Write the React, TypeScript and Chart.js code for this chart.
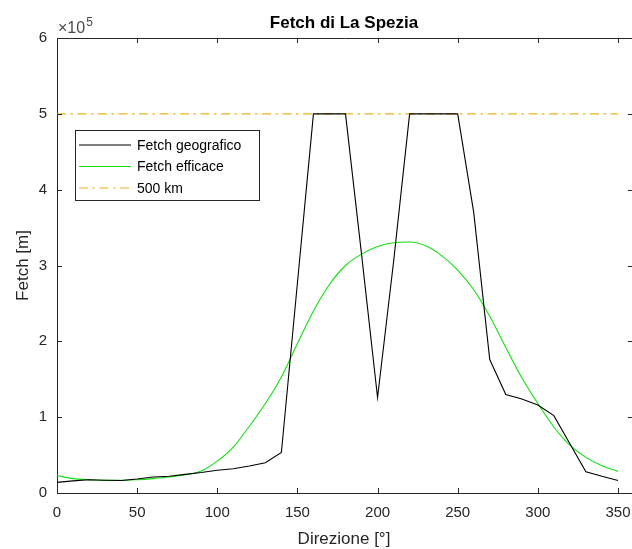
import React, { useEffect, useRef } from "react";
import { Chart, registerables } from "chart.js";

Chart.register(...registerables);

const directions = [0, 10, 20, 30, 40, 50, 60, 70, 80, 90, 100, 110, 120, 130, 140, 150, 160, 170, 180, 190, 200, 210, 220, 230, 240, 250, 260, 270, 280, 290, 300, 310, 320, 330, 340, 350];
const fetchGeografico = [14000, 16000, 17500, 16800, 16500, 18500, 21000, 22000, 24500, 27000, 30000, 32000, 35500, 40000, 53500, 277000, 500000, 500000, 500000, 315000, 126000, 305000, 500000, 500000, 500000, 500000, 370000, 176000, 130000, 124000, 116000, 102000, 65000, 28000, 22000, 16600];
const fetchEfficace = [23000, 19000, 17500, 16700, 16700, 17500, 19000, 21000, 24000, 29000, 42000, 60500, 88000, 118000, 153000, 197000, 240000, 275000, 300000, 315000, 325000, 330000, 331000, 326000, 313000, 294000, 268000, 233000, 192000, 152000, 118000, 87000, 63000, 47000, 36000, 28500];
const limitX = [0, 350];
const limitY = [500000, 500000];
const xTicks = [0, 50, 100, 150, 200, 250, 300, 350];
const yTicks = [0, 100000, 200000, 300000, 400000, 500000, 600000];
const titleText = "Fetch di La Spezia";
const xTitle = "Direzione [°]";
const yTitle = "Fetch [m]";
const seriesLabels = ["Fetch geografico", "Fetch efficace", "500 km"];

const FONT = "'Liberation Sans', Arial, Helvetica, sans-serif";
const AX = "#262626";

const decorPlugin = {
  id: "decor",
  afterDraw(chart: any) {
    const ctx = chart.ctx as CanvasRenderingContext2D;
    const { left, right, top, bottom } = chart.chartArea;
    const xs = chart.scales.x;
    const ys = chart.scales.y;
    ctx.save();
    ctx.strokeStyle = AX;
    ctx.lineWidth = 1;
    ctx.beginPath();
    ctx.moveTo(Math.round(left) + 0.5, Math.round(top) + 0.5);
    ctx.lineTo(Math.round(right) - 0.5, Math.round(top) + 0.5);
    ctx.lineTo(Math.round(right) - 0.5, Math.round(bottom) + 0.5);
    ctx.stroke();
    const tl = 5;
    ctx.beginPath();
    for (const v of xTicks) {
      const px = Math.round(xs.getPixelForValue(v)) + 0.5;
      ctx.moveTo(px, bottom);
      ctx.lineTo(px, bottom - tl);
      ctx.moveTo(px, top);
      ctx.lineTo(px, top + tl);
    }
    for (const v of yTicks) {
      const py = Math.round(ys.getPixelForValue(v)) + 0.5;
      ctx.moveTo(left, py);
      ctx.lineTo(left + tl, py);
      ctx.moveTo(right - 1, py);
      ctx.lineTo(right - 1 - tl, py);
    }
    ctx.stroke();

    const cx = (left + 631) / 2;
    ctx.fillStyle = "#000";
    ctx.font = `bold 17px ${FONT}`;
    ctx.textAlign = "center";
    ctx.textBaseline = "alphabetic";
    ctx.fillText(titleText, cx, 28);

    ctx.fillStyle = "#4a4a4a";
    ctx.font = `16px ${FONT}`;
    ctx.textAlign = "left";
    ctx.fillText("\u00d710", 58, 33);
    const w = ctx.measureText("\u00d710").width;
    ctx.font = `12px ${FONT}`;
    ctx.fillText("5", 58 + w + 1, 26);

    ctx.fillStyle = AX;
    ctx.font = `17px ${FONT}`;
    ctx.textAlign = "center";
    ctx.fillText(xTitle, cx, 544);
    ctx.save();
    ctx.translate(28, (top + bottom) / 2);
    ctx.rotate(-Math.PI / 2);
    ctx.fillText(yTitle, 0, 0);
    ctx.restore();

    const lx = 75.5, ly = 130.5, lw = 184, lh = 70;
    ctx.fillStyle = "#fff";
    ctx.fillRect(lx, ly, lw, lh);
    ctx.strokeStyle = AX;
    ctx.lineWidth = 1;
    ctx.strokeRect(lx, ly, lw, lh);
    const rows = [145, 166.5, 188];
    chart.data.datasets.forEach((ds: any, i: number) => {
      ctx.save();
      ctx.strokeStyle = ds.borderColor;
      ctx.lineWidth = ds.borderWidth;
      ctx.setLineDash(ds.borderDash || []);
      ctx.beginPath();
      ctx.moveTo(79, rows[i]);
      ctx.lineTo(131, rows[i]);
      ctx.stroke();
      ctx.restore();
      ctx.fillStyle = "#000";
      ctx.font = `14px ${FONT}`;
      ctx.textAlign = "left";
      ctx.textBaseline = "middle";
      ctx.fillText(ds.label, 137, rows[i] + 1);
    });
    ctx.restore();
  },
};

export default function App() {
  const ref = useRef<HTMLCanvasElement>(null);
  useEffect(() => {
    if (!ref.current) return;
    Chart.defaults.font.family = FONT;
    const chart = new Chart(ref.current, {
      type: "line",
      data: {
        datasets: [
          {
            label: seriesLabels[0],
            data: directions.map((d, i) => ({ x: d, y: fetchGeografico[i] })),
            borderColor: "#000000",
            borderWidth: 1.1,
            pointRadius: 0,
            tension: 0,
          },
          {
            label: seriesLabels[1],
            data: directions.map((d, i) => ({ x: d, y: fetchEfficace[i] })),
            borderColor: "#10e010",
            borderWidth: 1.1,
            pointRadius: 0,
            cubicInterpolationMode: "monotone",
          },
          {
            label: seriesLabels[2],
            data: limitX.map((d, i) => ({ x: d, y: limitY[i] })),
            borderColor: "#EDB120",
            borderWidth: 1.1,
            borderDash: [9, 4.5, 2.5, 4.5],
            pointRadius: 0,
          },
        ],
      },
      options: {
        animation: false,
        responsive: false,
        devicePixelRatio: 1,
        layout: { padding: { top: 38, right: 0, left: 0, bottom: 0 } },
        plugins: { legend: { display: false }, tooltip: { enabled: false }, title: { display: false } },
        scales: {
          x: {
            type: "linear",
            min: 0,
            max: 360,
            afterBuildTicks: (s: any) => {
              s.ticks = xTicks.map((v) => ({ value: v }));
            },
            afterFit: (s: any) => {
              s.height = 56;
              s.paddingLeft = 0;
              s.paddingRight = 0;
            },
            grid: { display: false, drawTicks: false },
            border: { display: true, color: AX, width: 1 },
            ticks: { color: AX, font: { size: 15 }, padding: 11, maxRotation: 0, autoSkip: false },
          },
          y: {
            type: "linear",
            min: 0,
            max: 600000,
            afterBuildTicks: (s: any) => {
              s.ticks = yTicks.map((v) => ({ value: v }));
            },
            afterFit: (s: any) => {
              s.width = 57;
              s.paddingTop = 0;
              s.paddingBottom = 0;
            },
            grid: { display: false, drawTicks: false },
            border: { display: true, color: AX, width: 1 },
            ticks: {
              color: AX,
              font: { size: 15 },
              padding: 10,
              callback: (v: any) => String(Number(v) / 100000),
            },
          },
        },
      },
      plugins: [decorPlugin],
    });
    return () => chart.destroy();
  }, []);
  return (
    <div style={{ position: "absolute", left: 0, top: 0, width: 632, height: 549, overflow: "hidden", background: "#fff" }}>
      <canvas ref={ref} width={634} height={549} style={{ display: "block" }} />
    </div>
  );
}
